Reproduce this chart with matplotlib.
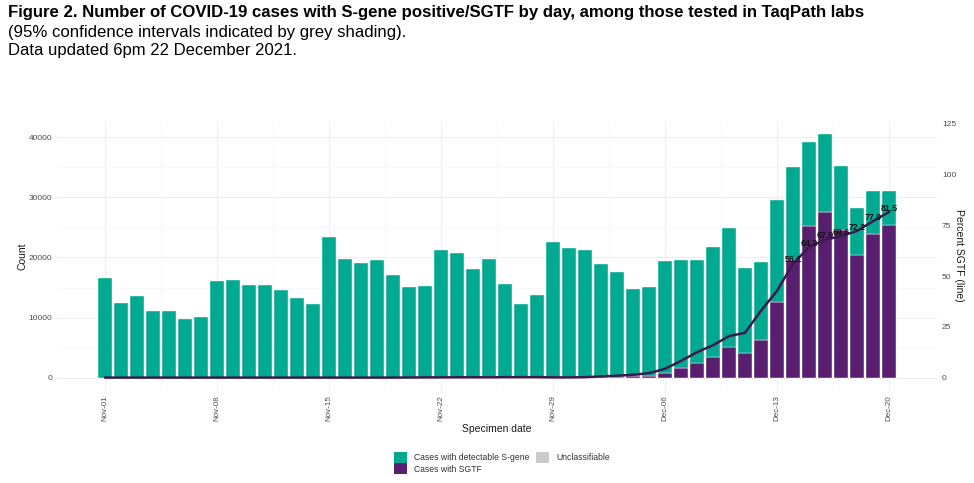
import numpy as np
import matplotlib
matplotlib.use("Agg")
import matplotlib.pyplot as plt
from matplotlib.patches import Patch
from matplotlib.ticker import FixedLocator
from matplotlib import font_manager

# Data (1 Nov - 20 Dec 2021)
total_cases = [16550, 12450, 13660, 11120, 11120, 9790, 10180,
               16050, 16270, 15440, 15380, 14600, 13330, 12220,
               23460, 19700, 19030, 19590, 17040, 15160, 15320,
               21190, 20690, 18150, 19750, 15550, 12280, 13780,
               22520, 21580, 21190, 18870, 17590, 14770, 15160,
               19470, 19590, 19590, 21740, 24840, 18310, 19200,
               29540, 34970, 39170, 40550, 35240, 28160, 31090, 31090]
sgtf_cases = [15, 12, 14, 11, 11, 10, 10,
              16, 16, 15, 15, 15, 13, 12,
              23, 20, 19, 20, 17, 20, 25,
              40, 45, 40, 45, 45, 35, 40,
              45, 45, 65, 130, 175, 220, 350,
              860, 1630, 2470, 3480, 5090, 4050, 6330,
              12610, 19620, 25150, 27530, 24530, 20330, 23940, 25340]
pct_sgtf = [0.1, 0.1, 0.1, 0.1, 0.1, 0.1, 0.1,
            0.1, 0.1, 0.1, 0.1, 0.1, 0.1, 0.1,
            0.1, 0.1, 0.1, 0.1, 0.1, 0.15, 0.2,
            0.2, 0.25, 0.25, 0.25, 0.3, 0.3, 0.3,
            0.2, 0.2, 0.3, 0.7, 1.0, 1.5, 2.3,
            4.4, 8.3, 12.6, 16.0, 20.5, 22.1, 33.0,
            42.7, 56.1, 64.2, 67.9, 69.6, 72.2, 77.0, 81.5]
tick_labels = ["Nov-01", "Nov-08", "Nov-15", "Nov-22",
               "Nov-29", "Dec-06", "Dec-13", "Dec-20"]

GREEN = "#00A98F"
PURPLE = "#581F6F"
LINE = "#3B1A4D"
GREY = "#CBCBCB"
TXT = "#4D4D4D"

names = {f.name for f in font_manager.fontManager.ttflist}
base_font = "Liberation Sans" if "Liberation Sans" in names else "DejaVu Sans"
title_font = "Liberation Sans Narrow" if "Liberation Sans Narrow" in names else base_font
plt.rcParams["font.family"] = [base_font, "DejaVu Sans"]

W, H = 974, 483
fig = plt.figure(figsize=(W / 100, H / 100), dpi=100)

# panel in pixel terms
left, right, top, bottom = 57, 937, 121.5, 390
ax = fig.add_axes([left / W, 1 - bottom / H, (right - left) / W, (bottom - top) / H])

days = np.arange(len(total_cases))
total = np.array(total_cases)
sgtf = np.array(sgtf_cases)

ax.bar(days, sgtf, width=0.9, color=PURPLE, edgecolor="white", linewidth=0.3, zorder=2)
ax.bar(days, total - sgtf, bottom=sgtf, width=0.9, color=GREEN,
       edgecolor="white", linewidth=0.3, zorder=2)

ymax = 40550
ax.set_ylim(-0.05 * ymax, 1.05 * ymax)
ax.set_xlim(-3, len(days) + 2)
ax.set_yticks([0, 10000, 20000, 30000, 40000])
ax.yaxis.set_minor_locator(FixedLocator([5000, 15000, 25000, 35000]))
ax.set_xticks(np.arange(0, len(days), 7))
ax.set_xticklabels(tick_labels, rotation=90)
ax.xaxis.set_minor_locator(FixedLocator(np.arange(-3.5, len(days) + 3, 7)))
ax.grid(which="major", color="#EBEBEB", linewidth=0.6)
ax.grid(which="minor", color="#F4F4F4", linewidth=0.4)
ax.set_axisbelow(True)
for s in ax.spines.values():
    s.set_visible(False)
ax.tick_params(which="both", length=0)
ax.tick_params(axis="y", labelsize=6, labelcolor=TXT, pad=3.5)
ax.tick_params(axis="x", labelsize=5.8, labelcolor=TXT, pad=3.5)

ax.set_xlabel("Specimen date", fontsize=7.5, color="#1A1A1A", va="center")
ax.xaxis.set_label_coords((497 - left) / (right - left), (bottom - 429) / (bottom - top))
ax.set_ylabel("Count", fontsize=7.5, color="#1A1A1A", va="center")
ax.yaxis.set_label_coords((22 - left) / (right - left), 0.5)

# secondary axis: percent scaled so 120% == max count
scale = ymax / 120
ax2 = ax.twinx()
ax2.set_ylim(ax.get_ylim()[0] / scale, ax.get_ylim()[1] / scale)
ax2.set_yticks([0, 25, 50, 75, 100, 125])
for s in ax2.spines.values():
    s.set_visible(False)
ax2.tick_params(length=0, labelsize=6, labelcolor=TXT, pad=3.5)
ax2.set_ylabel("Percent SGTF (line)", rotation=270, fontsize=7.5, color="#1A1A1A", va="center")
ax2.yaxis.set_label_coords((959 - left) / (right - left), 0.5)

ax2.plot(days, pct_sgtf, color=LINE, linewidth=1.8, solid_capstyle="round", zorder=3)
for d, p in zip(days, pct_sgtf):
    if p >= 50:
        ax2.annotate(f"{p:.1f}", (d, p), xytext=(0, 2.8), textcoords="offset points",
                     ha="center", va="center", fontsize=6.3, color="#111111",
                     fontweight="semibold", zorder=5)

# legend
handles = [Patch(facecolor=GREEN, label="Cases with detectable S-gene"),
           Patch(facecolor=PURPLE, label="Cases with SGTF"),
           Patch(facecolor=GREY, label="Unclassifiable")]
leg = fig.legend(handles=handles, loc="center", bbox_to_anchor=(502 / W, 1 - 463 / H),
                 ncol=2, frameon=False, fontsize=6.2, handlelength=1.5, handleheight=1.5,
                 handletextpad=0.8, columnspacing=0.8, labelspacing=0.1)
for t in leg.get_texts():
    t.set_color("#333333")


def fit_text(x_px, y_px, s, target_px, size0, **kw):
    t = fig.text(x_px / W, 1 - y_px / H, s, fontsize=size0, va="center", **kw)
    w = t.get_window_extent(renderer=fig.canvas.get_renderer()).width
    t.set_fontsize(size0 * target_px / w)
    return t


fit_text(8, 13, "Figure 2. Number of COVID-19 cases with S-gene positive/SGTF by day, "
         "among those tested in TaqPath labs", 857, 12, fontweight="bold",
         family=[title_font, "DejaVu Sans"])
fit_text(8, 32, "(95% confidence intervals indicated by grey shading).", 396, 11,
         family=[title_font, "DejaVu Sans"])
fit_text(8, 50, "Data updated 6pm 22 December 2021.", 287, 11,
         family=[title_font, "DejaVu Sans"])

fig.savefig("out.png", dpi=100)
